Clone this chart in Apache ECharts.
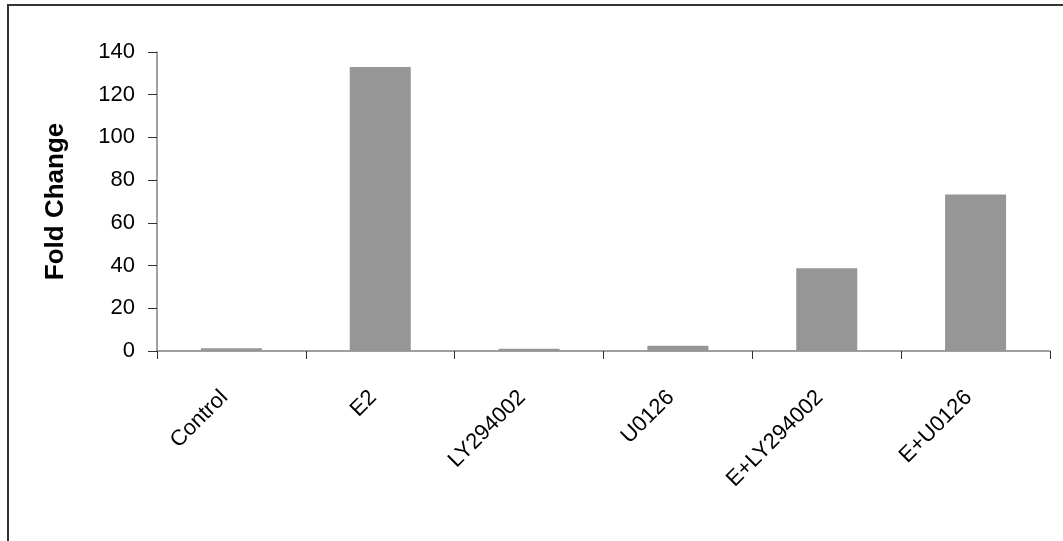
<!DOCTYPE html>
<html>
<head>
<meta charset="utf-8">
<script src="https://cdn.jsdelivr.net/npm/echarts@6/dist/echarts.min.js"></script>
<style>html,body{margin:0;padding:0;background:#fff;}#c{width:1063px;height:541px;}</style>
</head>
<body>
<div id="c"></div>
<script>
const categories = ['Control', 'E2', 'LY294002', 'U0126', 'E+LY294002', 'E+U0126'];
const foldChange = [1.3, 133, 1.1, 2.4, 38.8, 73.3];
const yTicks = { min: 0, max: 140, interval: 20 };

const chart = echarts.init(document.getElementById('c'), null, { renderer: 'canvas' });
chart.setOption({
  animation: false,
  backgroundColor: '#fff',
  graphic: [{
    type: 'rect', shape: { x: 8, y: 5, width: 1100, height: 600 },
    style: { fill: 'none', stroke: '#333', lineWidth: 2 }, silent: true
  }],
  grid: { left: 157, right: 13, top: 52, bottom: 190, containLabel: false },
  xAxis: {
    type: 'category', data: categories,
    axisLine: { lineStyle: { color: '#808080', width: 1.5 } },
    axisTick: { show: true, length: 8, lineStyle: { color: '#333' } },
    axisLabel: { rotate: 45, margin: 36, padding: [0, 10, 0, 0], fontFamily: 'Liberation Sans, Arial', fontSize: 22, color: '#000', interval: 0 }
  },
  yAxis: {
    type: 'value', min: yTicks.min, max: yTicks.max, interval: yTicks.interval,
    name: 'Fold Change', nameLocation: 'middle', nameGap: 88, nameRotate: 90,
    nameTextStyle: { fontFamily: 'Liberation Sans, Arial', fontSize: 26, fontWeight: 'bold', color: '#000' },
    axisLine: { show: true, lineStyle: { color: '#808080', width: 1.5 } },
    axisTick: { show: true, length: 9, lineStyle: { color: '#333' } },
    axisLabel: { margin: 22, fontFamily: 'Liberation Sans, Arial', fontSize: 22, color: '#000' },
    splitLine: { show: false }
  },
  series: [{
    type: 'bar', data: foldChange, barWidth: '41%',
    itemStyle: { color: '#969696' }
  }]
});
</script>
</body>
</html>
